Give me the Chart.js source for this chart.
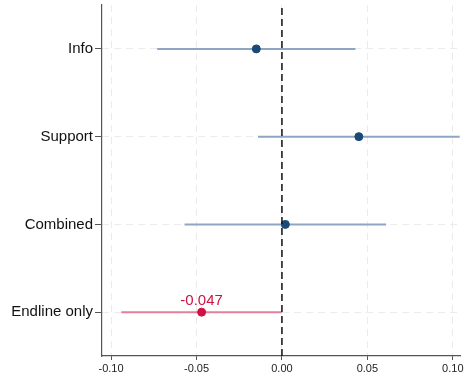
<!DOCTYPE html>
<html>
<head>
<meta charset="utf-8">
<script src="https://cdn.jsdelivr.net/npm/chart.js@4/dist/chart.umd.min.js"></script>
<style>
  html, body { margin: 0; padding: 0; background: #ffffff; }
  #wrap { width: 465px; height: 376px; }
</style>
</head>
<body>
<div id="wrap"><canvas id="chart" width="465" height="376"></canvas></div>
<script>
// Treatment arms, top to bottom
const categories = ['Info', 'Support', 'Combined', 'Endline only'];
// Point estimates and 95% confidence bounds
const estimates = [-0.015, 0.045, 0.002, -0.047];
const ciLow = [-0.073, -0.014, -0.057, -0.094];
const ciHigh = [0.043, 0.104, 0.061, 0.000];
// Arms that get a red highlight and a value label
const highlighted = [false, false, false, true];
// Horizontal axis ticks
const xTicks = [-0.10, -0.05, 0.00, 0.05, 0.10];

const BLUE_DOT = '#1b4a78';
const BLUE_BAR = '#8ea6c1';
const RED_DOT = '#cf1243';
const RED_BAR = '#e0809a';

// Row position on the vertical scale: first category on top
const rowY = i => categories.length - i;

const datasets = [];

// Reference line at zero
datasets.push({
  type: 'line',
  data: [{ x: 0, y: 0.5 }, { x: 0, y: categories.length + 0.5 }],
  borderColor: '#111111',
  borderWidth: 1.5,
  borderDash: [7, 4],
  pointRadius: 0,
  order: 0
});

// Confidence intervals
categories.forEach((c, i) => {
  datasets.push({
    type: 'line',
    data: [{ x: ciLow[i], y: rowY(i) }, { x: ciHigh[i], y: rowY(i) }],
    borderColor: highlighted[i] ? RED_BAR : BLUE_BAR,
    borderWidth: 2,
    pointRadius: 0,
    order: 2
  });
});

// Point estimates
datasets.push({
  type: 'scatter',
  data: estimates.map((v, i) => ({ x: v, y: rowY(i) })),
  backgroundColor: estimates.map((v, i) => highlighted[i] ? RED_DOT : BLUE_DOT),
  borderColor: estimates.map((v, i) => highlighted[i] ? RED_DOT : BLUE_DOT),
  pointRadius: 4,
  pointHoverRadius: 4,
  order: 1
});

// Value label above highlighted estimates
const valueLabels = {
  id: 'valueLabels',
  afterDatasetsDraw(chart) {
    const { ctx, scales: { x, y } } = chart;
    ctx.save();
    ctx.fillStyle = RED_DOT;
    ctx.font = '15px "Liberation Sans", Arial, sans-serif';
    ctx.textAlign = 'center';
    ctx.textBaseline = 'bottom';
    estimates.forEach((v, i) => {
      if (!highlighted[i]) return;
      ctx.fillText(v.toFixed(3), x.getPixelForValue(v), y.getPixelForValue(rowY(i)) - 4);
    });
    ctx.restore();
  }
};

new Chart(document.getElementById('chart'), {
  type: 'scatter',
  data: { datasets },
  plugins: [valueLabels],
  options: {
    responsive: false,
    animation: false,
    events: [],
    layout: { padding: { top: 5, right: 0, left: 0, bottom: 0 } },
    plugins: { legend: { display: false }, tooltip: { enabled: false } },
    scales: {
      x: {
        type: 'linear',
        min: -0.1053,
        max: 0.1042,
        afterBuildTicks: s => { s.ticks = xTicks.map(v => ({ value: v })); },
        afterFit: s => { s.height = 20; s.paddingLeft = 0; s.paddingRight = 0; },
        ticks: {
          callback: v => v.toFixed(2),
          font: { family: '"Liberation Sans", Arial, sans-serif', size: 11 },
          color: '#222222',
          padding: 2,
          maxRotation: 0,
          autoSkip: false
        },
        grid: {
          color: '#ebebeb',
          lineWidth: 1,
          tickColor: '#555555',
          tickLength: 4,
          tickWidth: 1
        },
        border: { display: true, color: '#555555', width: 1.2, dash: [7, 5] }
      },
      y: {
        type: 'linear',
        min: 0.5,
        max: categories.length + 0.5,
        afterBuildTicks: s => { s.ticks = categories.map((c, i) => ({ value: rowY(i) })); },
        afterFit: s => { s.width = 102; s.paddingTop = 0; s.paddingBottom = 0; },
        ticks: {
          callback: v => categories[categories.length - v],
          font: { family: '"Liberation Sans", Arial, sans-serif', size: 15 },
          color: '#111111',
          padding: 2,
          autoSkip: false
        },
        grid: {
          color: '#ebebeb',
          lineWidth: 1,
          tickColor: '#555555',
          tickLength: 7,
          tickWidth: 1
        },
        border: { display: true, color: '#555555', width: 1.2, dash: [7, 5] }
      }
    }
  }
});
</script>
</body>
</html>
